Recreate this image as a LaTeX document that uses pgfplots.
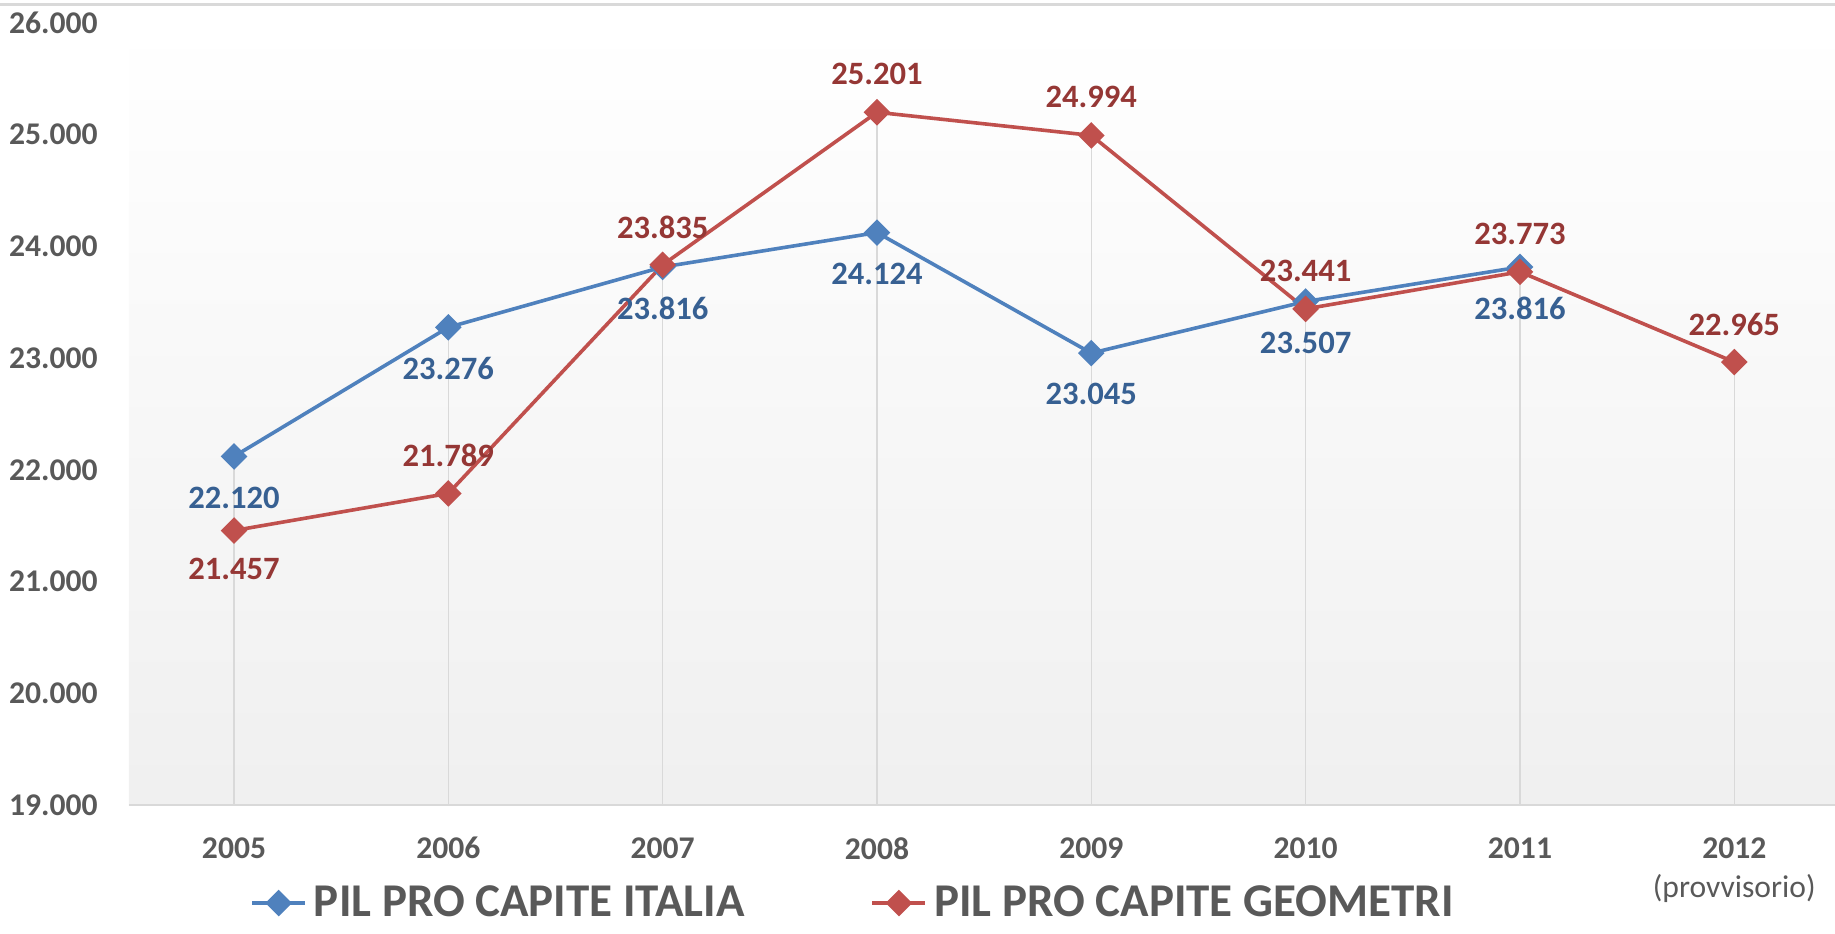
\documentclass[border=0pt]{standalone}
\usepackage{fontspec}
\setmainfont{Carlito}
\usepackage{pgfplots}
\pgfplotsset{compat=1.18}
\definecolor{serA}{HTML}{4F81BD}
\definecolor{serB}{HTML}{C0504D}
\definecolor{labA}{HTML}{376092}
\definecolor{labB}{HTML}{953735}
\definecolor{txt}{HTML}{595959}
\definecolor{gridc}{HTML}{D9D9D9}
\begin{document}
\begin{tikzpicture}
\begin{axis}[
  at={(0,0)}, anchor=south west,
  scale only axis, width=853pt, height=391pt,
  xmin=-0.49, xmax=7.47, ymin=19000, ymax=26000,
  axis x line*=bottom, axis y line*=left,
  x axis line style={draw=gridc, line width=0.8pt, -},
  y axis line style={draw=none},
  axis background/.style={shade, top color=white, bottom color=black!6},
  xtick={0,1,2,3,4,5,6,7},
  xticklabels={2005,2006,2007,2008,2009,2010,2011,{2012\\\mdseries(provvisorio)}},
  xticklabel style={align=center, anchor=north, inner sep=0pt, yshift=-16pt},
  ytick={19000,20000,21000,22000,23000,24000,25000,26000},
  scaled y ticks=false,
  yticklabel style={anchor=east, inner sep=0pt, xshift=-15.5pt},
  tick style={draw=none},
  ticklabel style={font=\fontsize{15.8}{19.5}\selectfont\bfseries, text=txt},
  /pgf/number format/fixed,
  /pgf/number format/precision=0,
  /pgf/number format/1000 sep={.},
  /pgf/number format/assume math mode=true,
  legend columns=2,
  legend style={draw=none, fill=none, inner sep=0pt,
    font=\fontsize{23.5}{28}\selectfont\bfseries, text=txt,
    at={(axis description cs:0,0)}, anchor=west, xshift=60.5pt, yshift=-49pt,
    nodes={inner sep=0pt}, column sep=3.5pt,
    /tikz/every even column/.append style={column sep=63pt}},
  legend image code/.code={\draw[mark repeat=2, mark phase=2] plot coordinates {(0pt,0pt) (13.25pt,0pt) (26.5pt,0pt)};},
  clip=true,
]
% drop lines
\addplot[ycomb, draw=gridc, line width=0.7pt, forget plot] coordinates {
  (0,22120) (1,23276) (2,23835) (3,25201) (4,24994) (5,23507) (6,23816) (7,22965)};
% series
\addplot[serA, line width=1.8pt, mark=square*, mark size=3.8pt, mark options={solid, rotate=45, fill=serA}]
  coordinates {(0,22120) (1,23276) (2,23816) (3,24124) (4,23045) (5,23507) (6,23816)};
\addlegendentry{PIL PRO CAPITE ITALIA}
\addplot[serB, line width=1.8pt, mark=square*, mark size=3.8pt, mark options={solid, rotate=45, fill=serB}]
  coordinates {(0,21457) (1,21789) (2,23835) (3,25201) (4,24994) (5,23441) (6,23773) (7,22965)};
\addlegendentry{PIL PRO CAPITE GEOMETRI}
% labels
\addplot[draw=none, mark=none, forget plot, nodes near coords,
  every node near coord/.append style={font=\fontsize{16.3}{19}\selectfont\bfseries, text=labA, anchor=center, yshift=-20.5pt}]
  coordinates {(0,22120) (1,23276) (2,23816) (3,24124) (4,23045) (5,23507) (6,23816)};
\addplot[draw=none, mark=none, forget plot, nodes near coords,
  every node near coord/.append style={font=\fontsize{16.3}{19}\selectfont\bfseries, text=labB, anchor=center, yshift=19pt}]
  coordinates {(1,21789) (2,23835) (3,25201) (4,24994) (5,23441) (6,23773) (7,22965)};
\addplot[draw=none, mark=none, forget plot, nodes near coords,
  every node near coord/.append style={font=\fontsize{16.3}{19}\selectfont\bfseries, text=labB, anchor=center, yshift=-19pt}]
  coordinates {(0,21457)};
\end{axis}
\draw[gridc, line width=1.2pt] (-64.5pt,400.2pt) -- (853pt,400.2pt);
\pgfresetboundingbox
\path[use as bounding box] (-64.5pt,-64pt) rectangle (853pt,402.5pt);
\end{tikzpicture}
\end{document}
